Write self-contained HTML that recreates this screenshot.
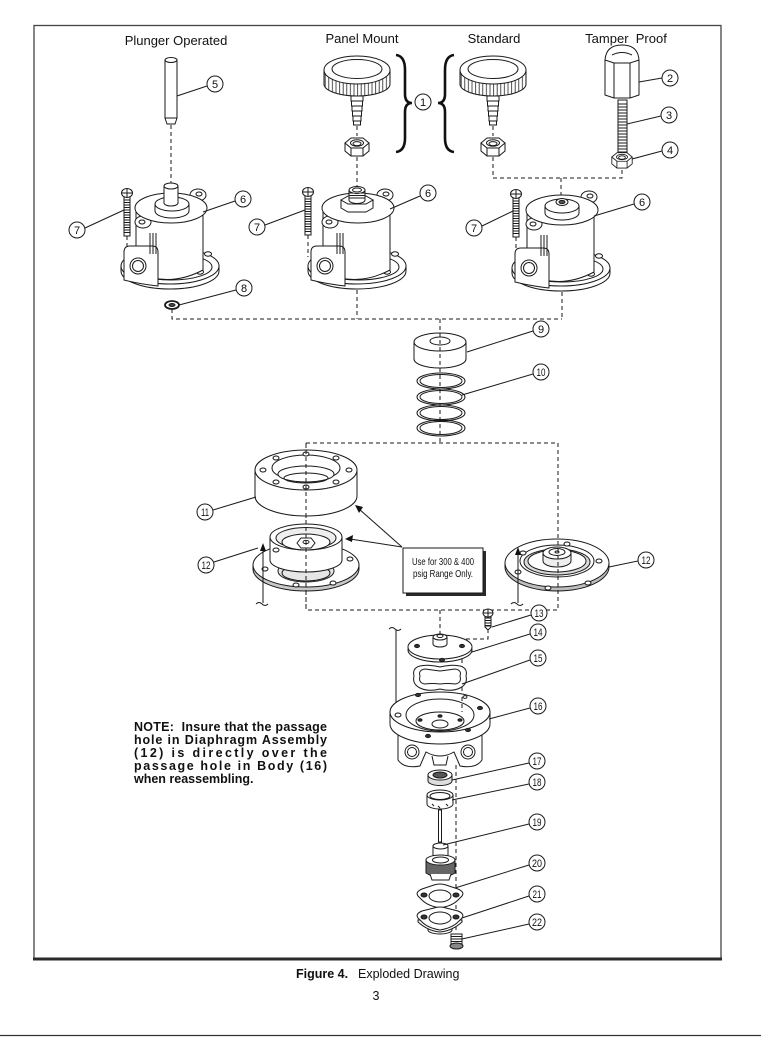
<!DOCTYPE html>
<html><head><meta charset="utf-8">
<style>
html,body{margin:0;padding:0;background:#fff;}
body{width:761px;height:1037px;position:relative;overflow:hidden;}
svg{position:absolute;left:0;top:0;}
</style></head><body>
<svg width="761" height="1037" viewBox="0 0 761 1037" xmlns="http://www.w3.org/2000/svg">
<defs>
<pattern id="kn" width="3.6" height="60" patternUnits="userSpaceOnUse"><rect width="3.6" height="60" fill="#fff"/><line x1="0.6" y1="0" x2="0.6" y2="60" stroke="#222" stroke-width="0.8"/></pattern>
<g id="bon" stroke="#1a1a1a" stroke-width="1" fill="#fff">
 <path d="M-49,0 L-49,5 A49,18 0 0 0 49,5 L49,0 Z"/>
 <ellipse cx="0" cy="0" rx="49" ry="18"/>
 <ellipse cx="1" cy="1" rx="41" ry="13" fill="none"/>
 <ellipse cx="38" cy="-12" rx="3.5" ry="2.2"/>
 <ellipse cx="30" cy="6" rx="3.5" ry="2.2"/>
 <ellipse cx="-11" cy="11" rx="3.5" ry="2.2"/>
 <path d="M-34,-56 L-34,6 Q-1,22 33,4 L33,-58 Z"/>
 <ellipse cx="-27" cy="-44" rx="8" ry="6"/>
 <ellipse cx="28" cy="-71" rx="8" ry="6"/>
 <ellipse cx="1" cy="-58" rx="36" ry="15"/>
 <ellipse cx="-28" cy="-44" rx="3" ry="2"/>
 <ellipse cx="29" cy="-72" rx="3" ry="2"/>
 <path d="M-46,-14 Q-46,-20 -40,-20 L-18,-20 Q-12,-20 -12,-14 L-12,20 Q-30,18 -46,14 Z"/>
 <circle cx="-32" cy="0" r="8"/>
 <circle cx="-32" cy="0" r="5.5" fill="none"/>
 <path d="M-20,-33 V-12 M-17,-33 V-12 M-14,-33 V-12" fill="none"/>
</g>
<g id="scr" stroke="#1a1a1a" stroke-width="1" fill="#fff">
 <rect x="-3" y="3" width="6" height="40"/>
 <path d="M-3,7h6M-3,9.5h6M-3,12h6M-3,14.5h6M-3,17h6M-3,19.5h6M-3,22h6M-3,24.5h6M-3,27h6M-3,29.5h6M-3,32h6M-3,34.5h6M-3,37h6M-3,39.5h6" fill="none"/>
 <ellipse cx="0" cy="0" rx="5.5" ry="4.5"/>
 <path d="M-5.5,0h11M0,-4.5v9" fill="none"/>
</g>
<g id="knob" stroke="#1a1a1a" stroke-width="1" fill="#fff">
 <path d="M-33,0 L-33,14 A33,12 0 0 0 33,14 L33,0 Z" fill="url(#kn)"/>
 <ellipse cx="0" cy="0" rx="33" ry="14"/>
 <ellipse cx="0" cy="-1" rx="25" ry="9.5"/>
 <rect x="-6" y="26" width="12" height="5"/>
 <rect x="-5.5" y="31" width="11" height="5"/>
 <rect x="-5" y="36" width="10" height="5"/>
 <rect x="-4.5" y="41" width="9" height="5"/>
 <rect x="-4" y="46" width="8" height="5"/>
 <rect x="-3.5" y="51" width="7" height="4"/>
</g>
<g id="nut" stroke="#1a1a1a" stroke-width="1" fill="#fff">
 <path d="M-12,0 L-12,8 L-6,13 L6,13 L12,8 L12,0 Z"/>
 <path d="M-12,0 L-6,-5 L6,-5 L12,0 L6,5 L-6,5 Z"/>
 <path d="M-6,5V13M6,5V13" fill="none"/>
 <ellipse cx="0" cy="0" rx="6.5" ry="3.2"/>
 <ellipse cx="0" cy="0.6" rx="4" ry="2"/>
</g>
</defs>

<!-- frame -->
<rect x="34" y="25.5" width="687" height="933" fill="none" stroke="#444" stroke-width="1.3"/>
<line x1="33" y1="959" x2="722" y2="959" stroke="#2a2a2a" stroke-width="3"/>
<line x1="0" y1="1035.5" x2="761" y2="1035.5" stroke="#333" stroke-width="1.2"/>

<!-- titles -->
<g font-family="Liberation Sans, Arial, sans-serif" font-size="13" fill="#111" text-anchor="middle">
<text x="176" y="45">Plunger Operated</text>
<text x="362" y="43">Panel Mount</text>
<text x="494" y="43">Standard</text>
<text x="626" y="43" xml:space="preserve">Tamper  Proof</text>
</g>

<!-- dashed lines -->
<g stroke="#1a1a1a" stroke-width="1" stroke-dasharray="4,3" fill="none">
<path d="M171,125V185"/>
<path d="M127,236V258M308,235V257M516,237V259"/>
<path d="M357,126V136M357,157V186"/>
<path d="M493,126V136M493,157V178H622V168M561,178V196"/>
<path d="M172,309V319H562M357,290V319M562,292V319"/>
<path d="M440,319V443"/>
<path d="M306,443H558V610H306Z"/>
<path d="M440,610V636"/>
<path d="M488,629V639H462V712"/>
<path d="M456,765V933"/>
</g>

<!-- plunger pin 5 -->
<g stroke="#1a1a1a" stroke-width="1" fill="#fff">
<path d="M165,60 L165,118 L167,124 L175,124 L177,118 L177,60 Z"/>
<ellipse cx="171" cy="60" rx="6" ry="2.5"/>
<path d="M165,118H177" fill="none"/>
</g>

<!-- bonnets -->
<use href="#bon" transform="translate(170,266)"/>
<use href="#bon" transform="translate(357,266)"/>
<use href="#bon" transform="translate(561,268)"/>
<!-- bonnet 1 boss + stem -->
<g stroke="#1a1a1a" stroke-width="1" fill="#fff">
<path d="M155,204 L155,211 A17,7 0 0 0 189,211 L189,204 Z"/>
<ellipse cx="172" cy="204" rx="17" ry="7"/>
<path d="M164,186 L164,203 A7,3 0 0 0 178,203 L178,186 Z"/>
<ellipse cx="171" cy="186" rx="7" ry="3"/>
<!-- bonnet 2 hex + thread -->
<path d="M341,200 L341,208 L348,212 L366,212 L373,208 L373,200 Z"/>
<path d="M341,200 L348,196 L366,196 L373,200 L366,204 L348,204 Z"/>
<path d="M349,190 L349,200 A8,3.5 0 0 0 365,200 L365,190 Z"/>
<path d="M349,193h16M349,195.5h16M349,198h16" fill="none"/>
<ellipse cx="357" cy="190" rx="8" ry="3.5"/>
<ellipse cx="357" cy="190" rx="4.5" ry="2"/>
<!-- bonnet 3 boss + nut -->
<path d="M545,206 L545,213 A17,7 0 0 0 579,213 L579,206 Z"/>
<ellipse cx="562" cy="206" rx="17" ry="7"/>
<ellipse cx="562" cy="202" rx="6" ry="3.5"/>
<ellipse cx="562" cy="202" rx="3" ry="1.6" fill="#555"/>
<!-- washer 8 -->
<ellipse cx="172" cy="305" rx="7" ry="4" stroke-width="1.8"/>
<ellipse cx="172" cy="305" rx="3" ry="1.5" fill="#444"/>
</g>

<!-- screws 7 -->
<use href="#scr" transform="translate(127,193)"/>
<use href="#scr" transform="translate(308,192)"/>
<use href="#scr" transform="translate(516,194)"/>

<!-- knobs -->
<use href="#knob" transform="translate(357,70)"/>
<use href="#knob" transform="translate(493,70)"/>
<use href="#nut" transform="translate(357,143)"/>
<use href="#nut" transform="translate(493,143)"/>
<use href="#nut" transform="translate(622,157) scale(0.85)"/>

<!-- braces -->
<g stroke="#111" stroke-width="2.6" fill="none">
<path d="M396,55 Q405,56 405,70 L405,94 Q405,103 412,103 Q405,103 405,112 L405,138 Q405,151 396,152"/>
<path d="M454,55 Q445,56 445,70 L445,94 Q445,103 438,103 Q445,103 445,112 L445,138 Q445,151 454,152"/>
</g>

<!-- tamper proof cap & stud -->
<g stroke="#1a1a1a" stroke-width="1" fill="#fff">
<path d="M605,60 Q606,45 622,45 Q638,45 639,60 L639,95 L630,98 L614,98 L605,95 Z"/>
<path d="M605,60 L614,63 L630,63 L639,60 M614,63V98M630,63V98" fill="none"/>
<path d="M612,55 Q622,50 632,55" fill="none"/>
<rect x="618" y="100" width="9" height="52"/>
<path d="M618,104h9M618,107h9M618,110h9M618,113h9M618,116h9M618,119h9M618,122h9M618,125h9M618,128h9M618,131h9M618,134h9M618,137h9M618,140h9M618,143h9M618,146h9M618,149h9" fill="none"/>
</g>

<!-- item 9 -->
<g stroke="#1a1a1a" stroke-width="1" fill="#fff">
<path d="M414,342 L414,359 A26,9 0 0 0 466,359 L466,342 Z"/>
<ellipse cx="440" cy="342" rx="26" ry="9"/>
<ellipse cx="440" cy="341" rx="10" ry="4"/>
</g>
<!-- spring 10 -->
<g stroke="#1a1a1a" stroke-width="1" fill="none">
<ellipse cx="441" cy="381" rx="24" ry="8"/><ellipse cx="441" cy="381" rx="21" ry="6.5"/>
<ellipse cx="441" cy="397" rx="24" ry="8"/><ellipse cx="441" cy="397" rx="21" ry="6.5"/>
<ellipse cx="441" cy="413" rx="24" ry="8"/><ellipse cx="441" cy="413" rx="21" ry="6.5"/>
<ellipse cx="441" cy="428" rx="24" ry="8"/><ellipse cx="441" cy="428" rx="21" ry="6.5"/>
</g>
<path d="M440,319V443" stroke="#1a1a1a" stroke-dasharray="4,3" fill="none"/>

<!-- item 11 -->
<g stroke="#1a1a1a" stroke-width="1" fill="#fff">
<path d="M255,470 L255,496 A51,20 0 0 0 357,496 L357,470 Z"/>
<ellipse cx="306" cy="470" rx="51" ry="20"/>
<ellipse cx="306" cy="468" rx="34" ry="13"/>
<ellipse cx="306" cy="474" rx="28" ry="8"/>
<ellipse cx="306" cy="478" rx="22" ry="5" fill="none"/>
<ellipse cx="349" cy="470" rx="3" ry="2"/>
<ellipse cx="336" cy="482" rx="3" ry="2"/>
<ellipse cx="306" cy="487" rx="3" ry="2"/>
<ellipse cx="276" cy="482" rx="3" ry="2"/>
<ellipse cx="263" cy="470" rx="3" ry="2"/>
<ellipse cx="276" cy="458" rx="3" ry="2"/>
<ellipse cx="306" cy="454" rx="3" ry="2"/>
<ellipse cx="336" cy="458" rx="3" ry="2"/>
</g>

<!-- item 12 left -->
<g stroke="#1a1a1a" stroke-width="1" fill="#fff">
<path d="M253,565 L253,569 A53,22 0 0 0 359,569 L359,565 Z" fill="#c8c8c8"/>
<ellipse cx="306" cy="565" rx="53" ry="22"/>
<ellipse cx="306" cy="571" rx="28" ry="11" fill="#e6e6e6"/>
<ellipse cx="306" cy="573" rx="24" ry="8" fill="none"/>
<path d="M270,537 L270,560 A36,12 0 0 0 342,560 L342,537 Z"/>
<ellipse cx="306" cy="537" rx="36" ry="13"/>
<ellipse cx="306" cy="538" rx="30" ry="10.5" fill="#eee"/>
<ellipse cx="306" cy="542" rx="24" ry="8"/>
<path d="M297,543 L301,538 L311,538 L315,543 L311,548 L301,548 Z"/>
<ellipse cx="306" cy="542" rx="3" ry="1.6"/>
<ellipse cx="265" cy="569" rx="3" ry="2"/>
<ellipse cx="296" cy="585" rx="3" ry="2"/>
<ellipse cx="333" cy="583" rx="3" ry="2"/>
<ellipse cx="350" cy="559" rx="3" ry="2"/>
<ellipse cx="276" cy="550" rx="3" ry="2"/>
</g>
<path d="M306,443V610" stroke="#1a1a1a" stroke-dasharray="4,3" fill="none"/>

<!-- item 12 right -->
<g stroke="#1a1a1a" stroke-width="1" fill="#fff">
<path d="M505,563 L505,567 A52,24 0 0 0 609,567 L609,563 Z" fill="#bdbdbd"/>
<ellipse cx="557" cy="563" rx="52" ry="24"/>
<ellipse cx="557" cy="561" rx="37" ry="16"/>
<ellipse cx="557" cy="562" rx="33" ry="13" fill="#d9d9d9"/>
<ellipse cx="557" cy="561" rx="29" ry="11"/>
<path d="M543,553 L543,561 A14,6 0 0 0 571,561 L571,553 Z" fill="#eee"/>
<ellipse cx="557" cy="553" rx="14" ry="6"/>
<ellipse cx="557" cy="552" rx="8" ry="3.5"/>
<ellipse cx="557" cy="552" rx="2" ry="1"/>
<ellipse cx="518" cy="572" rx="3" ry="2"/>
<ellipse cx="548" cy="588" rx="3" ry="2"/>
<ellipse cx="588" cy="583" rx="3" ry="2"/>
<ellipse cx="599" cy="561" rx="3" ry="2"/>
<ellipse cx="567" cy="544" rx="3" ry="2"/>
<ellipse cx="523" cy="553" rx="3" ry="2"/>
</g>
<path d="M558,443V610" stroke="#1a1a1a" stroke-dasharray="4,3" fill="none"/>

<!-- arrows with tildes -->
<g stroke="#1a1a1a" stroke-width="1" fill="none">
<path d="M263,603V548"/>
<path d="M256,604 q3,-3 6,0 t6,0"/>
<path d="M518,603V552"/>
<path d="M511,604 q3,-3 6,0 t6,0"/>
<path d="M396,630V706"/>
<path d="M389,629 q3,-3 6,0 t6,0"/>
<path d="M402,547 L359,509"/>
<path d="M402,547 L350,539"/>
</g>
<g fill="#111">
<path d="M263,543 L260,551 L266,551 Z"/>
<path d="M518,547 L515,555 L521,555 Z"/>
<path d="M396,712 L393,704 L399,704 Z"/>
<path d="M355,505 L359,513 L363,507 Z"/>
<path d="M345,539 L353,535 L352,542 Z"/>
</g>

<!-- callout box -->
<rect x="406" y="551" width="80" height="45" fill="#2a2a2a"/>
<rect x="403" y="548" width="80" height="45" fill="#fff" stroke="#1a1a1a" stroke-width="1"/>
<g font-family="Liberation Sans Narrow, Liberation Sans, sans-serif" font-size="10.5" fill="#111">
<text x="412" y="565" textLength="62" lengthAdjust="spacingAndGlyphs">Use for 300 &amp; 400</text>
<text x="413" y="577" textLength="60" lengthAdjust="spacingAndGlyphs">psig Range Only.</text>
</g>

<!-- item 13 screw -->
<g stroke="#1a1a1a" stroke-width="1" fill="#fff">
<rect x="485" y="615" width="6" height="12"/>
<path d="M485,618h6M485,620.5h6M485,623h6M485,625.5h6" fill="none"/>
<path d="M485,627 L488,630 L491,627" />
<ellipse cx="488" cy="613" rx="5" ry="4"/>
<path d="M483,613h10M488,609v8" fill="none"/>
</g>

<!-- item 14 -->
<g stroke="#1a1a1a" stroke-width="1" fill="#fff">
<ellipse cx="440" cy="650" rx="32" ry="12"/>
<ellipse cx="440" cy="647" rx="32" ry="12"/>
<path d="M433,637 L433,644 A7,3 0 0 0 447,644 L447,637 Z"/>
<ellipse cx="440" cy="637" rx="7" ry="3"/>
<ellipse cx="440" cy="636" rx="3" ry="1.5"/>
<ellipse cx="417" cy="646" rx="2.5" ry="1.6" fill="#333"/>
<ellipse cx="462" cy="646" rx="2.5" ry="1.6" fill="#333"/>
<ellipse cx="442" cy="660" rx="2.5" ry="1.6" fill="#333"/>
</g>

<!-- item 15 gasket -->
<g stroke="#1a1a1a" stroke-width="1" fill="#fff">
<path d="M414,676 Q412,668 420,666 Q428,664 440,667 Q452,664 460,666 Q468,668 466,676 Q468,684 460,688 Q452,692 440,689 Q428,692 420,688 Q412,684 414,676 Z"/>
<path d="M420,676 Q418,670 425,669 Q432,670 440,671 Q448,670 455,669 Q462,670 460,676 Q462,683 455,684 Q448,683 440,684 Q432,683 425,684 Q418,683 420,676 Z"/>
</g>

<!-- item 16 body -->
<g stroke="#1a1a1a" stroke-width="1" fill="#fff">
<path d="M398,734 L398,760 Q404,769 420,766 L426,752 Q440,760 454,752 L460,766 Q476,769 482,760 L482,734 Z"/>
<circle cx="412" cy="752" r="7"/><circle cx="412" cy="752" r="4.5" fill="none"/>
<circle cx="468" cy="752" r="7"/><circle cx="468" cy="752" r="4.5" fill="none"/>
<path d="M432,756 L434,765 L446,765 L448,756" fill="none"/>
<path d="M390,712 L390,724 A50,20 0 0 0 490,724 L490,712 Z"/>
<ellipse cx="440" cy="712" rx="50" ry="20"/>
<ellipse cx="440" cy="715" rx="34" ry="16"/>
<ellipse cx="440" cy="721" rx="24" ry="9" fill="none"/>
<ellipse cx="440" cy="724" rx="8" ry="4"/>
<ellipse cx="420" cy="720" rx="2" ry="1.3" fill="#333"/>
<ellipse cx="460" cy="720" rx="2" ry="1.3" fill="#333"/>
<ellipse cx="440" cy="716" rx="2" ry="1.3" fill="#333"/>
<ellipse cx="418" cy="695" rx="2.5" ry="1.6" fill="#333"/>
<ellipse cx="480" cy="708" rx="2.5" ry="1.6" fill="#333"/>
<ellipse cx="468" cy="730" rx="2.5" ry="1.6" fill="#333"/>
<ellipse cx="428" cy="736" rx="2.5" ry="1.6" fill="#333"/>
<ellipse cx="398" cy="715" rx="3" ry="2"/>
<ellipse cx="465" cy="697" rx="2" ry="1.4"/>
</g>
<path d="M462,697V712" stroke="#1a1a1a" stroke-dasharray="4,3" fill="none"/>

<!-- items 17-22 -->
<g stroke="#1a1a1a" stroke-width="1" fill="#fff">
<path d="M428,775 L428,781 A12,4.5 0 0 0 452,781 L452,775 Z" fill="#ddd"/>
<ellipse cx="440" cy="775" rx="12" ry="5"/>
<ellipse cx="440" cy="775" rx="7" ry="3" fill="#555"/>
<path d="M427,795 L427,804 A13,5 0 0 0 453,804 L453,795 Z"/>
<ellipse cx="440" cy="795" rx="13" ry="5"/>
<ellipse cx="440" cy="796" rx="10" ry="3.5" fill="none"/>
<path d="M432,804l2,2M438,806l2,2M446,804l2,2" fill="none"/>
<rect x="438.5" y="810" width="3" height="32"/>
<path d="M433,846 L433,856 A7.5,3 0 0 0 448,856 L448,846 Z"/>
<ellipse cx="440.5" cy="846" rx="7.5" ry="3"/>
<path d="M426,860 L426,873 Q440,882 455,873 L455,860 Z" fill="#666"/>
<ellipse cx="440.5" cy="860" rx="14.5" ry="5"/>
<ellipse cx="440.5" cy="860" rx="8" ry="3" fill="none"/>
<path d="M430,874 L432,880 L449,880 L451,874" fill="#fff"/>
<!-- 20 -->
<path d="M418,896 Q415,892 422,889 L434,885 Q440,883 446,885 L458,889 Q465,892 462,896 L458,900 Q452,906 440,908 Q428,906 422,900 Z"/>
<ellipse cx="440" cy="896" rx="11" ry="6"/>
<ellipse cx="424" cy="895" rx="3" ry="2" fill="#333"/>
<ellipse cx="456" cy="895" rx="3" ry="2" fill="#333"/>
<!-- 21 -->
<path d="M428,924 L428,930 A12,4 0 0 0 452,930 L452,924 Z"/>
<path d="M418,920 L418,922 Q428,931 440,932 Q452,931 462,922 L462,920 Z"/>
<path d="M418,918 Q415,914 422,911 L434,908 Q440,906 446,908 L458,911 Q465,914 462,918 L458,922 Q452,928 440,930 Q428,928 422,922 Z"/>
<ellipse cx="440" cy="918" rx="11" ry="6"/>
<ellipse cx="424" cy="917" rx="3" ry="2" fill="#333"/>
<ellipse cx="456" cy="917" rx="3" ry="2" fill="#333"/>
<!-- 22 -->
<rect x="451" y="934" width="11" height="10"/>
<path d="M451,936.5h11M451,939h11M451,941.5h11" fill="none"/>
<ellipse cx="456.5" cy="946" rx="6.5" ry="3" fill="#888"/>
</g>

<!-- leader lines -->
<g stroke="#1a1a1a" stroke-width="1" fill="none">
<path d="M177,96L207,86"/>
<path d="M639,82L662,78"/>
<path d="M627,124L661,116"/>
<path d="M632,159L662,151"/>
<path d="M203,212L235,201"/>
<path d="M390,209L420,196"/>
<path d="M594,216L634,204"/>
<path d="M85,228L124,210"/>
<path d="M265,225L305,210"/>
<path d="M482,226L513,211"/>
<path d="M179,305L236,290"/>
<path d="M467,352L533,331"/>
<path d="M462,395L533,374"/>
<path d="M213,510L256,497"/>
<path d="M214,562L258,548"/>
<path d="M609,567L638,561"/>
<path d="M492,627L531,615"/>
<path d="M472,652L530,634"/>
<path d="M462,684L530,660"/>
<path d="M489,719L530,708"/>
<path d="M452,780L529,763"/>
<path d="M452,800L529,784"/>
<path d="M443,845L529,824"/>
<path d="M455,888L529,865"/>
<path d="M462,918L529,896"/>
<path d="M462,939L529,924"/>
</g>

<!-- callout circles -->
<g stroke="#1a1a1a" stroke-width="1" fill="#fff">
<circle cx="215" cy="84" r="8"/>
<circle cx="423" cy="102" r="8"/>
<circle cx="670" cy="78" r="8"/>
<circle cx="669" cy="115" r="8"/>
<circle cx="670" cy="150" r="8"/>
<circle cx="243" cy="199" r="8"/>
<circle cx="428" cy="193" r="8"/>
<circle cx="642" cy="202" r="8"/>
<circle cx="77" cy="230" r="8"/>
<circle cx="257" cy="227" r="8"/>
<circle cx="474" cy="228" r="8"/>
<circle cx="244" cy="288" r="8"/>
<circle cx="541" cy="329" r="8"/>
<circle cx="541" cy="372" r="8"/>
<circle cx="205" cy="512" r="8"/>
<circle cx="206" cy="565" r="8"/>
<circle cx="646" cy="560" r="8"/>
<circle cx="539" cy="613" r="8"/>
<circle cx="538" cy="632" r="8"/>
<circle cx="538" cy="658" r="8"/>
<circle cx="538" cy="706" r="8"/>
<circle cx="537" cy="761" r="8"/>
<circle cx="537" cy="782" r="8"/>
<circle cx="537" cy="822" r="8"/>
<circle cx="537" cy="863" r="8"/>
<circle cx="537" cy="894" r="8"/>
<circle cx="537" cy="922" r="8"/>
</g>
<g font-family="Liberation Sans Narrow, Liberation Sans, sans-serif" font-size="11" fill="#111" text-anchor="middle">
<text x="215" y="88">5</text>
<text x="423" y="106">1</text>
<text x="670" y="82">2</text>
<text x="669" y="119">3</text>
<text x="670" y="154">4</text>
<text x="243" y="203">6</text>
<text x="428" y="197">6</text>
<text x="642" y="206">6</text>
<text x="77" y="234">7</text>
<text x="257" y="231">7</text>
<text x="474" y="232">7</text>
<text x="244" y="292">8</text>
<text x="541" y="333">9</text>
<text x="541" y="376" textLength="9" lengthAdjust="spacingAndGlyphs">10</text>
<text x="205" y="516" textLength="8" lengthAdjust="spacingAndGlyphs">11</text>
<text x="206" y="569" textLength="9" lengthAdjust="spacingAndGlyphs">12</text>
<text x="646" y="564" textLength="9" lengthAdjust="spacingAndGlyphs">12</text>
<text x="539" y="617" textLength="9" lengthAdjust="spacingAndGlyphs">13</text>
<text x="538" y="636" textLength="9" lengthAdjust="spacingAndGlyphs">14</text>
<text x="538" y="662" textLength="9" lengthAdjust="spacingAndGlyphs">15</text>
<text x="538" y="710" textLength="9" lengthAdjust="spacingAndGlyphs">16</text>
<text x="537" y="765" textLength="9" lengthAdjust="spacingAndGlyphs">17</text>
<text x="537" y="786" textLength="9" lengthAdjust="spacingAndGlyphs">18</text>
<text x="537" y="826" textLength="9" lengthAdjust="spacingAndGlyphs">19</text>
<text x="537" y="867" textLength="10" lengthAdjust="spacingAndGlyphs">20</text>
<text x="537" y="898" textLength="9" lengthAdjust="spacingAndGlyphs">21</text>
<text x="537" y="926" textLength="10" lengthAdjust="spacingAndGlyphs">22</text>
</g>

<!-- NOTE -->
<g font-family="Liberation Sans, Arial, sans-serif" font-size="12.5" font-weight="bold" fill="#111">
<text x="134" y="731" textLength="193" lengthAdjust="spacing" xml:space="preserve">NOTE:  Insure that the passage</text>
<text x="134" y="744" textLength="193" lengthAdjust="spacing">hole in Diaphragm Assembly</text>
<text x="134" y="757" textLength="193" lengthAdjust="spacing">(12) is directly over the</text>
<text x="134" y="770" textLength="193" lengthAdjust="spacing">passage hole in Body (16)</text>
<text x="134" y="783">when reassembling.</text>
</g>

<!-- caption -->
<g font-family="Liberation Sans, Arial, sans-serif" font-size="12.5" fill="#111">
<text x="296" y="978"><tspan font-weight="bold">Figure 4.</tspan><tspan x="358">Exploded Drawing</tspan></text>
<text x="376" y="1000" text-anchor="middle">3</text>
</g>
</svg>
</body></html>
